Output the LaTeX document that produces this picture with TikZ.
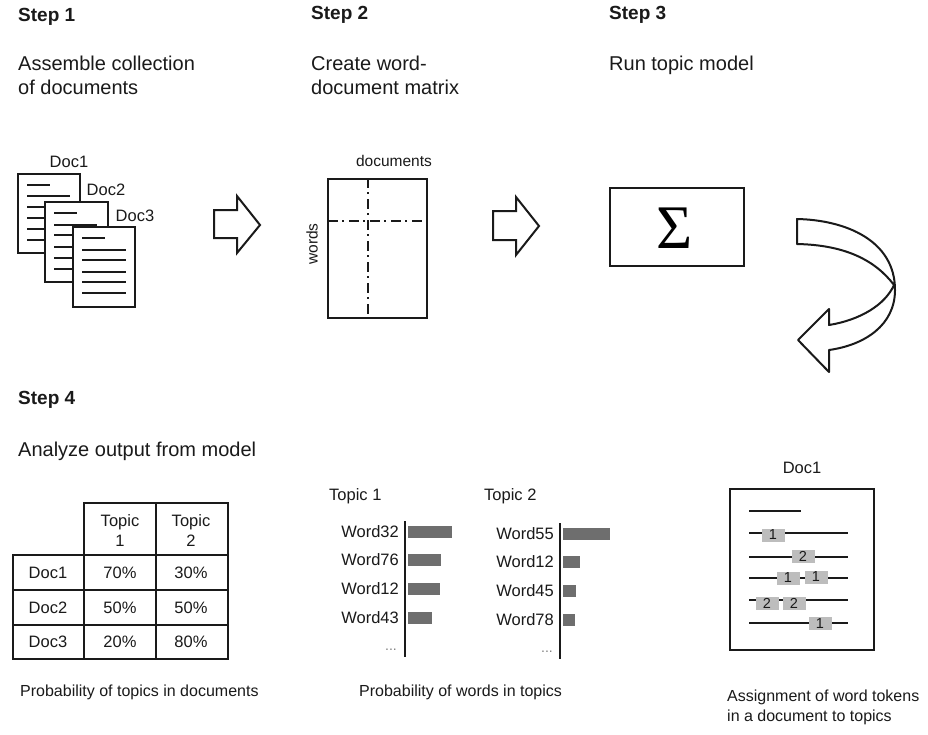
\documentclass[tikz,border=0pt]{standalone}
\usepackage{fontspec}
\setmainfont{Liberation Sans}
\newfontfamily\sigmafont{Liberation Serif}
\definecolor{ink}{HTML}{1A1A1A}
\definecolor{tokengray}{HTML}{BDBDBD}
\definecolor{bargray}{HTML}{6E6E6E}
\tikzset{
  heading/.style={anchor=west,inner sep=0pt,font=\fontsize{19}{22}\selectfont\bfseries,text=ink},
  subhead/.style={anchor=north west,inner sep=0pt,align=left,font=\fontsize{20}{24}\selectfont,text=ink},
  label/.style={inner sep=0pt,font=\fontsize{16.5}{20}\selectfont,text=ink},
  caption/.style={anchor=west,inner sep=0pt,align=left,font=\fontsize{16}{20}\selectfont,text=ink},
  box/.style={draw=ink,line width=2pt,fill=white},
  txtline/.style={draw=ink,line width=2pt},
  blockarrow/.style={draw=ink,line width=2pt,fill=white,line join=miter},
  token/.style={fill=tokengray,minimum width=23pt,minimum height=13pt,inner sep=0pt,font=\fontsize{14.5}{16}\selectfont,text=ink},
  hbar/.style={fill=bargray},
  axisline/.style={draw=ink,line width=2pt},
  dashdot/.style={draw=ink,line width=1.6pt,dash pattern=on 10pt off 4pt on 2pt off 5pt},
}
\begin{document}
\begin{tikzpicture}[x=1pt,y=-1pt]
\useasboundingbox (0,0) rectangle (928,734);
\fill[white] (0,0) rectangle (928,734);
% headings
\node[heading] (s1) at (18,17) {Step 1};
\node[heading] (s2) at (311,15) {Step 2};
\node[heading] (s3) at (609,15) {Step 3};
\node[heading] (s4) at (18,400) {Step 4};
\node[subhead] (h1) at (18,56) {Assemble collection\\of documents};
\node[subhead] (h2) at (311,56) {Create word-\\document matrix};
\node[subhead] (h3) at (609,56) {Run topic model};
\node[subhead] (h4) at (18,442) {Analyze output from model};
% docs
\node[label] (d1) at (69,162) {Doc1};
\node[label] (d2) at (106,190) {Doc2};
\node[label] (d3) at (135,216) {Doc3};
\draw[box] (18,174) rectangle (80,253);
\foreach \y/\e in {185/50,196/70,207/70,218/70,229/70,240/70} \draw[txtline] (27,\y) -- (\e,\y);
\draw[box] (45,202) rectangle (108,282);
\foreach \y/\e in {213/77,225/97,235/97,247/97,258/97,269/97} \draw[txtline] (54,\y) -- (\e,\y);
\draw[box] (73,227) rectangle (135,307);
\foreach \y/\e in {238/105,250/126,260/126,272/126,282/126,293/126} \draw[txtline] (82,\y) -- (\e,\y);
% arrows
\draw[blockarrow] (214,210) -- (237,210) -- (237,196) -- (260,225) -- (237,253) -- (237,238) -- (214,238) -- cycle;
\draw[blockarrow] (493,211) -- (516,211) -- (516,197) -- (539,226) -- (516,255) -- (516,240) -- (493,240) -- cycle;
% matrix
\node[box,minimum width=99pt,minimum height=139pt,inner sep=0pt] (mat) at (377.5,248.5) {};
\coordinate (mt) at (368,178); \coordinate (mb) at (368,319);
\coordinate (ml) at (328,221); \coordinate (mr) at (427,221);
\draw[dashdot] (mt) -- (mb);
\draw[dashdot] (ml) -- (mr);
\node[label,font=\fontsize{15.5}{18}\selectfont] (mdoc) at (394,161) {documents};
\node[label,rotate=90,font=\fontsize{15.5}{18}\selectfont] (mword) at (312,244) {words};
% sigma
\node[box,minimum width=134pt,minimum height=78pt,inner sep=0pt] (sig) at (677,227) {};
\node[inner sep=0pt,text=black,font=\fontsize{62}{62}\selectfont\sigmafont] (sigt) at (675,228) {Σ};
% curved arrow
\draw[blockarrow,line join=round] (797,219) .. controls (845,220) and (895,240) .. (895,290)
  .. controls (895,325) and (865,345) .. (829,350) -- (829,372) -- (798,340) -- (829,309) -- (829,325)
  .. controls (860,320) and (885,305) .. (894,285)
  .. controls (875,260) and (845,245) .. (797,244) -- cycle;
% table
\draw[box,fill=none] (84,503) -- (228,503) -- (228,659) -- (13,659) -- (13,555) -- (84,555) -- cycle;
\draw[box,fill=none] (156,503) -- (156,659);
\draw[box,fill=none] (84,555) -- (84,659);
\draw[box,fill=none] (84,555) -- (228,555);
\draw[box,fill=none] (13,590) -- (228,590);
\draw[box,fill=none] (13,625) -- (228,625);
\node[label,align=center] (t1) at (120,530.5) {Topic\\1};
\node[label,align=center] (t2) at (191,530.5) {Topic\\2};
\foreach \r/\yy/\a/\b in {1/573/70/30,2/608/50/50,3/642/20/80}{
  \node[label] (rn\r) at (48,\yy) {Doc\r};
  \node[label] (ra\r) at (120,\yy) {\a\%};
  \node[label] (rb\r) at (191,\yy) {\b\%};
}
\node[caption] (c1) at (20,692.5) {Probability of topics in documents};
% bars
\node[label,anchor=west] (tp1) at (329,496) {Topic 1};
\node[label,anchor=west] (tp2) at (484,496) {Topic 2};
\coordinate (a1t) at (405,521); \coordinate (a1b) at (405,657);
\coordinate (a2t) at (560,523); \coordinate (a2b) at (560,659);
\draw[axisline] (a1t) -- (a1b);
\draw[axisline] (a2t) -- (a2b);
\foreach \n/\w/\yy/\e in {a/Word32/532/452,b/Word76/560/441,c/Word12/589/440,d/Word43/618/432}{
  \node[label,anchor=east] (w1\n) at (399,\yy) {\w};
  \fill[hbar] (408,\yy-6) rectangle (\e,\yy+6);
}
\foreach \n/\w/\yy/\e in {a/Word55/534/610,b/Word12/562/580,c/Word45/591/576,d/Word78/620/575}{
  \node[label,anchor=east] (w2\n) at (554,\yy) {\w};
  \fill[hbar] (563,\yy-6) rectangle (\e,\yy+6);
}
\node[label,font=\fontsize{14}{16}\selectfont,text=gray] (dots1) at (391,650) {...};
\node[label,font=\fontsize{14}{16}\selectfont,text=gray] (dots2) at (547,652) {...};
\node[caption] (c2) at (359,692.5) {Probability of words in topics};
% doc with tokens
\node[label] (dd) at (802,468) {Doc1};
\draw[box] (730,489) rectangle (874,650);
\draw[txtline] (749,511) -- (801,511);
\foreach \y in {533,557,578,600,623} \draw[txtline] (749,\y) -- (848,\y);
\node[token] (k1) at (773,535) {1};
\node[token] (k2) at (803,556) {2};
\node[token] (k3) at (788,578) {1};
\node[token] (k4) at (816,577) {1};
\node[token] (k5) at (767,603) {2};
\node[token] (k6) at (794,603) {2};
\node[token] (k7) at (820,623) {1};
\node[caption] (c3) at (727,707) {Assignment of word tokens\\in a document to topics};
\end{tikzpicture}
\end{document}
